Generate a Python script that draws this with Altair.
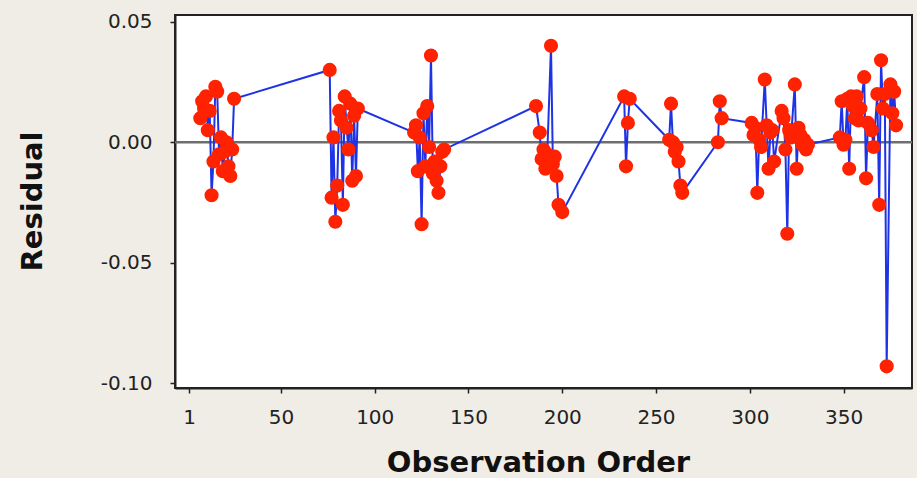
import altair as alt
import pandas as pd

# Observation order (x) and residuals (y)
obs = [7, 8, 9, 10, 11, 12, 13, 14, 15, 16, 17, 18, 19, 20, 21, 22, 23, 24, 25,
       76, 77, 78, 79, 80, 81, 82, 83, 84, 85, 86, 87, 88, 89, 90, 91,
       121, 122, 123, 124, 125, 126, 127, 128, 129, 130, 131, 132, 133, 134, 135, 136, 137,
       186, 188, 189, 190, 191, 192, 194, 195, 196, 197, 198, 200,
       233, 234, 235, 236,
       257, 258, 259, 260, 261, 262, 263, 264,
       283, 284, 285,
       301, 302, 303, 304, 305, 306, 308, 309, 310, 311, 312, 313,
       317, 318, 319, 320, 321, 322, 324, 325, 326, 327, 328, 329, 330, 331,
       348, 349, 350, 351, 352, 353, 354, 355, 356, 357, 358, 359, 361, 362, 363,
       365, 366, 368, 369, 370, 371, 372, 373, 375, 376, 377, 378]

res = [0.010, 0.017, 0.014, 0.019, 0.005, 0.013, -0.022, -0.008, 0.023, 0.021,
       -0.005, 0.002, -0.012, -0.004, 0.000, -0.010, -0.014, -0.003, 0.018,
       0.030, -0.023, 0.002, -0.033, -0.018, 0.013, 0.009, -0.026, 0.019, 0.006,
       -0.003, 0.016, -0.016, 0.011, -0.014, 0.014,
       0.004, 0.007, -0.012, 0.002, -0.034, 0.012, -0.010, 0.015, -0.002, 0.036,
       -0.013, -0.008, -0.016, -0.021, -0.010, -0.004, -0.003,
       0.015, 0.004, -0.007, -0.003, -0.011, -0.005, 0.040, -0.009, -0.006, -0.014, -0.026, -0.029,
       0.019, -0.010, 0.008, 0.018,
       0.001, 0.016, 0.000, -0.004, -0.002, -0.008, -0.018, -0.021,
       0.000, 0.017, 0.010,
       0.008, 0.003, 0.006, -0.021, 0.001, -0.002, 0.026, 0.007, -0.011, 0.004, 0.005, -0.008,
       0.013, 0.010, -0.003, -0.038, 0.005, 0.002, 0.024, -0.011, 0.006, 0.003, -0.001, 0.001, -0.003, -0.001,
       0.002, 0.017, -0.001, 0.001, 0.018, -0.011, 0.019, 0.015, 0.010, 0.019, 0.009, 0.014, 0.027, -0.015, 0.008,
       0.005, -0.002, 0.020, -0.026, 0.034, 0.014, 0.020, -0.093, 0.024, 0.012, 0.021, 0.007]

x_ticks = [1, 50, 100, 150, 200, 250, 300, 350]
y_ticks = [-0.10, -0.05, 0.0, 0.05]

df = pd.DataFrame({"obs": obs, "res": res})

FONT = "DejaVu Sans"

x_enc = alt.X(
    "obs:Q",
    scale=alt.Scale(domain=[-6.5, 386.5], nice=False, zero=False),
    axis=alt.Axis(
        values=x_ticks, title="Observation Order", grid=False,
        labelFontSize=20, labelPadding=14, tickSize=5,
        titleFontSize=29, titleFontWeight="bold",
        titleX=363, titleY=74, titleBaseline="middle", titleAlign="center",
    ),
)
y_enc = alt.Y(
    "res:Q",
    scale=alt.Scale(domain=[-0.102, 0.0528], nice=False, zero=False),
    axis=alt.Axis(
        values=y_ticks, title="Residual", grid=False,
        labelExpr="datum.value < 0 ? '-' + format(-datum.value, '.2f') : format(datum.value, '.2f')",
        labelFontSize=20, labelPadding=18, tickSize=5,
        titleFontSize=29, titleFontWeight="bold",
        titleX=-143, titleY=186, titleBaseline="middle", titleAlign="center", titleAngle=-90,
    ),
)

zero = alt.Chart(pd.DataFrame({"z": [0.0]})).mark_rule(
    color="#6e6e6e", strokeWidth=2.5
).encode(y="z:Q")

line = alt.Chart(df).mark_line(color="#1f33e6", strokeWidth=2).encode(
    x=x_enc, y=y_enc, order="obs:Q"
)

pts = alt.Chart(df).mark_circle(color="#ff2200", size=200, opacity=1).encode(
    x="obs:Q", y="res:Q"
)

chart = alt.layer(zero, line, pts).properties(
    width=737, height=373,
    background="#f0ede6",
    autosize=alt.AutoSizeParams(type="none"),
    padding={"left": 175, "top": 15, "right": 5, "bottom": 90},
).configure_view(
    fill="white", stroke="#222222", strokeWidth=2
).configure_axis(
    labelFont=FONT, titleFont=FONT, labelColor="#222222", titleColor="#111111",
    domainColor="#222222", domainWidth=2, tickColor="#222222", tickWidth=1.5,
)

chart.save("out.html", embed_options={"renderer": "svg", "actions": False})
